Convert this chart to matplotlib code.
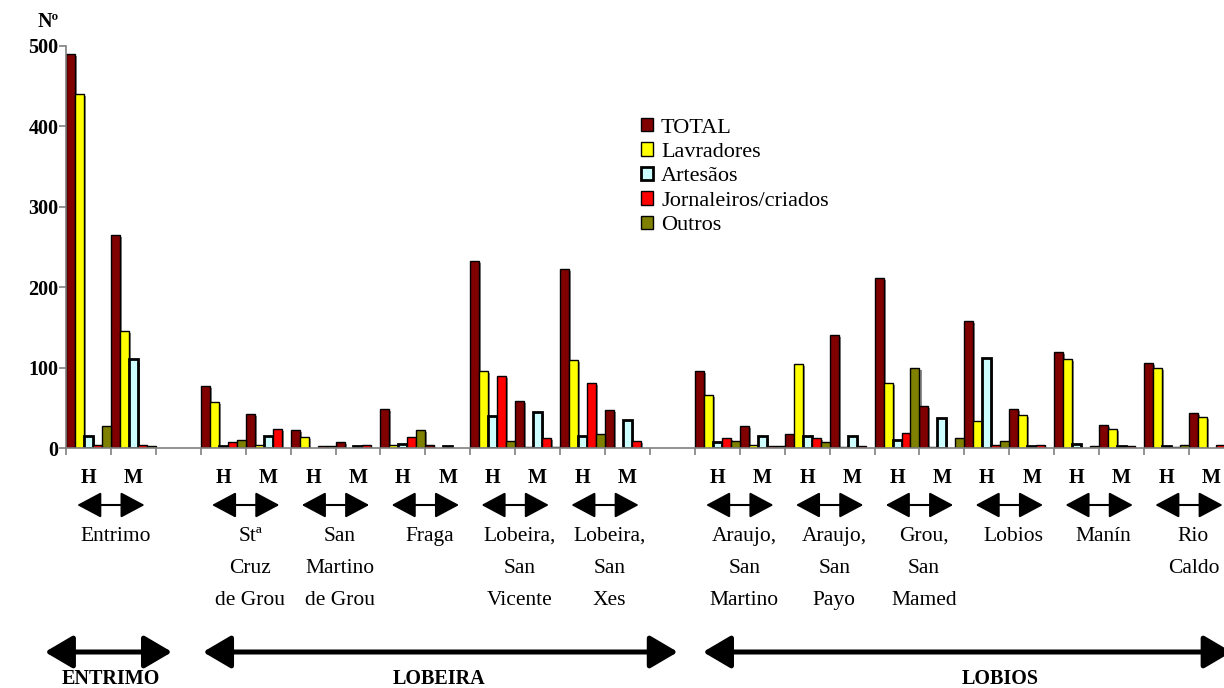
import matplotlib.pyplot as plt
import matplotlib.transforms as mtransforms
from matplotlib.patches import Patch
import numpy as np

plt.rcParams['font.family'] = ['Liberation Serif', 'DejaVu Serif']

# Parishes, each with a men (H) and women (M) group
parishes = ['Entrimo', 'Stª\nCruz\nde Grou', 'San\nMartino\nde Grou', 'Fraga',
            'Lobeira,\nSan\nVicente', 'Lobeira,\nSan\nXes',
            'Araujo,\nSan\nMartino', 'Araujo,\nSan\nPayo', 'Grou,\nSan\nMamed',
            'Lobios', 'Manín', 'Rio\nCaldo']
sexes = ['H', 'M']

# values per group, in order parish1 H, parish1 M, parish2 H, ...
total       = [490, 265, 77, 42, 22, 7, 49, 4, 233, 59, 223, 47,
               96, 27, 17, 141, 211, 52, 158, 49, 119, 29, 106, 44]
lavradores  = [440, 146, 57, 4, 14, 0, 4, 0, 96, 1, 109, 0,
               66, 4, 104, 1, 81, 1, 34, 41, 111, 24, 99, 39]
artesaos    = [15, 110, 2, 15, 0, 2, 5, 2, 40, 45, 15, 35,
               7, 15, 15, 15, 10, 37, 112, 2, 5, 2, 2, 0]
jornaleiros = [4, 4, 7, 24, 2, 4, 14, 0, 89, 12, 81, 9,
               12, 2, 12, 2, 19, 0, 4, 4, 0, 2, 1, 4]
outros      = [27, 2, 10, 0, 2, 0, 22, 0, 9, 1, 17, 0,
               9, 2, 7, 0, 99, 12, 9, 0, 2, 0, 4, 0]

series_names = ['TOTAL', 'Lavradores', 'Artesãos', 'Jornaleiros/criados', 'Outros']
series_colors = ['#800000', '#FFFF00', '#CCFFFF', '#FF0000', '#808000']
series_edge = [1.0, 1.0, 2.0, 1.0, 1.0]

# municipalities: name, arrow start, arrow end, label x (in slots)
regions = [('ENTRIMO', -0.47, 2.36, 1.0),
           ('LOBEIRA', 3.05, 13.62, 8.3),
           ('LOBIOS', 14.18, 25.95, 20.8)]

# one empty slot after Entrimo and after Lobeira, San Xes
def slot(p):
    return 2 * p + (1 if p >= 1 else 0) + (1 if p >= 6 else 0)

group_x = np.array([slot(p) + s for p in range(len(parishes)) for s in range(2)], dtype=float)
n_slots = 26

W, H = 1224, 688
fig = plt.figure(figsize=(W / 100, H / 100), dpi=100)
ax_left, ax_right, ax_bottom, ax_top = 66, 66 + 44.92 * n_slots, 448, 45.7
ax = fig.add_axes([ax_left / W, 1 - ax_bottom / H,
                   (ax_right - ax_left) / W, (ax_bottom - ax_top) / H])

all_series = [total, lavradores, artesaos, jornaleiros, outros]
bw = 0.2
for j, vals in enumerate(all_series):
    v = np.array(vals, dtype=float)
    m = v > 0
    x = group_x[m] + j * bw
    # drop shadow
    ax.bar(x + 0.045, np.maximum(v[m] - 2.5, 0), width=bw, align='edge',
           color='#8c8c8c', linewidth=0, zorder=1)
    ax.bar(x, v[m], width=bw, align='edge', color=series_colors[j],
           edgecolor='black', linewidth=series_edge[j], zorder=2)

ax.set_xlim(0, n_slots)
ax.set_ylim(0, 500)
ax.set_xticks(np.arange(0, n_slots + 1))
ax.set_xticklabels([])
ax.set_yticks([0, 100, 200, 300, 400, 500])
ax.set_yticklabels(['0', '100', '200', '300', '400', '500'],
                   fontsize=14.5, fontweight='bold')
ax.tick_params(axis='both', direction='out', length=5, width=1.2, colors='#808080',
               labelcolor='black', pad=0.5)
for side in ['top', 'right']:
    ax.spines[side].set_visible(False)
for side in ['left', 'bottom']:
    ax.spines[side].set_color('#808080')
    ax.spines[side].set_linewidth(1.2)
    ax.spines[side].set_zorder(3)

fig.text(38 / W, 1 - 22 / H, 'Nº', fontsize=14.5, fontweight='bold', va='center', ha='left')

# text/arrow coordinates: x in data slots, y in pixels from the top
tr = mtransforms.blended_transform_factory(ax.transData, fig.transFigure)
def fy(px):
    return 1 - px / H

for p, name in enumerate(parishes):
    b = slot(p) + 1
    ax.text(b - 0.5, fy(478), 'H', transform=tr, ha='center', va='center',
            fontsize=14.5, fontweight='bold')
    ax.text(b + 0.5, fy(478), 'M', transform=tr, ha='center', va='center',
            fontsize=14.5, fontweight='bold')
    ax.annotate('', xy=(b + 0.75, fy(505)), xytext=(b - 0.75, fy(505)),
                xycoords=tr, textcoords=tr, annotation_clip=False,
                arrowprops=dict(arrowstyle='<|-|>,head_length=15,head_width=8',
                                mutation_scale=1, color='black', lw=1.5,
                                shrinkA=0, shrinkB=0))
    ax.text(b + 0.1, fy(527), name, transform=tr, ha='center', va='top',
            fontsize=15.5, linespacing=1.92)

for name, x0, x1, xl in regions:
    ax.annotate('', xy=(x1, fy(652)), xytext=(x0, fy(652)),
                xycoords=tr, textcoords=tr, annotation_clip=False,
                arrowprops=dict(arrowstyle='<|-|>,head_length=17,head_width=10',
                                mutation_scale=1, color='black', lw=3.6,
                                shrinkA=0, shrinkB=0))
    ax.text(xl, fy(679), name, transform=tr, ha='center', va='center',
            fontsize=14.5, fontweight='bold')

handles = [Patch(facecolor=c, edgecolor='black', linewidth=lw)
           for c, lw in zip(series_colors, series_edge)]
fig.legend(handles, series_names, loc='upper left',
           bbox_to_anchor=(641 / W, 1 - 118 / H), frameon=False, fontsize=16,
           handlelength=0.55, handleheight=0.55, handletextpad=0.35,
           labelspacing=0.22, borderpad=0, borderaxespad=0)

fig.savefig('out.png', dpi=100)
